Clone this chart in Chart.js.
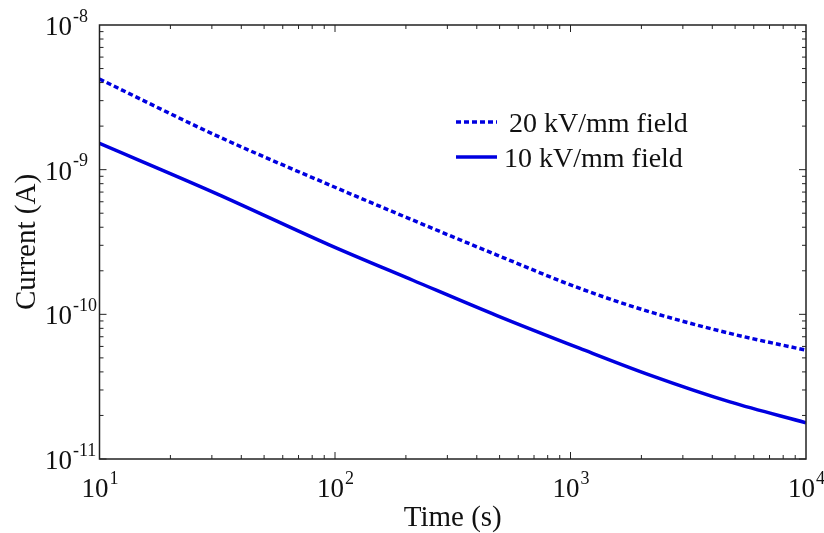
<!DOCTYPE html>
<html>
<head>
<meta charset="utf-8">
<script src="https://cdn.jsdelivr.net/npm/chart.js@4"></script>
<style>
  html, body { margin: 0; padding: 0; background: #fff; }
  #wrap { width: 824px; height: 533px; }
</style>
</head>
<body>
<div id="wrap"><canvas id="cv" width="824" height="533"></canvas></div>
<script>
'use strict';

// measured transient currents
const times = [10, 31, 95, 214, 487, 1097, 2175, 4753, 10000];
const field20 = [4.23e-9, 1.735e-9, 7.83e-10, 4.48e-10, 2.57e-10, 1.51e-10, 1.04e-10, 7.38e-11, 5.65e-11];
const field10 = [1.52e-9, 6.89e-10, 3.01e-10, 1.72e-10, 9.8e-11, 5.81e-11, 3.80e-11, 2.48e-11, 1.78e-11];
const seriesLabels = ['20 kV/mm field', '10 kV/mm field'];
const xDecades = [1, 2, 3, 4];
const yDecades = [-8, -9, -10, -11];

const blue = '#0000e0';
const serif = '"Liberation Serif", "Times New Roman", serif';

function pow10Label(ctx, exp, x, y, size, align) {
  // "10" with a superscript exponent
  ctx.font = size + 'px ' + serif;
  const base = '10';
  const bw = ctx.measureText(base).width;
  ctx.font = Math.round(size * 0.66) + 'px ' + serif;
  const ew = ctx.measureText(String(exp)).width;
  let x0;
  if (align === 'center') x0 = x - (bw + ew) / 2;
  else x0 = x - bw; // right edge of "10" at x
  ctx.textAlign = 'left';
  ctx.textBaseline = 'alphabetic';
  ctx.font = size + 'px ' + serif;
  ctx.fillText(base, x0, y);
  ctx.font = Math.round(size * 0.66) + 'px ' + serif;
  ctx.fillText(String(exp), x0 + bw + 1, y - size * 0.5);
}

const frame = {
  id: 'frame',
  afterDraw(chart) {
    const { ctx, chartArea: a, scales } = chart;
    const xs = scales.x, ys = scales.y;
    ctx.save();
    ctx.strokeStyle = '#222';
    ctx.lineWidth = 1.5;
    ctx.strokeRect(a.left, a.top, a.right - a.left, a.bottom - a.top);

    // inward log ticks on all four sides
    ctx.lineWidth = 1;
    ctx.beginPath();
    for (let d = 1; d < 4; d++) {
      for (let m = 1; m <= 9; m++) {
        const px = xs.getPixelForValue(m * Math.pow(10, d));
        const len = m === 1 ? 7 : 4;
        ctx.moveTo(px, a.bottom); ctx.lineTo(px, a.bottom - len);
        ctx.moveTo(px, a.top); ctx.lineTo(px, a.top + len);
      }
    }
    for (let d = -11; d < -8; d++) {
      for (let m = 1; m <= 9; m++) {
        const py = ys.getPixelForValue(m * Math.pow(10, d));
        const len = m === 1 ? 7 : 4;
        ctx.moveTo(a.left, py); ctx.lineTo(a.left + len, py);
        ctx.moveTo(a.right, py); ctx.lineTo(a.right - len, py);
      }
    }
    ctx.stroke();

    ctx.fillStyle = '#111';
    xDecades.forEach(d => {
      pow10Label(ctx, d, xs.getPixelForValue(Math.pow(10, d)), a.bottom + 38, 27, 'center');
    });
    yDecades.forEach(d => {
      pow10Label(ctx, d, 72, ys.getPixelForValue(Math.pow(10, d)) + 10, 27, 'right');
    });

    // axis titles
    ctx.font = '29px ' + serif;
    ctx.textAlign = 'center';
    ctx.textBaseline = 'alphabetic';
    ctx.fillText('Time (s)', (a.left + a.right) / 2, 526);
    ctx.save();
    ctx.translate(35, (a.top + a.bottom) / 2);
    ctx.rotate(-Math.PI / 2);
    ctx.fillText('Current (A)', 0, 0);
    ctx.restore();

    // legend
    const rows = [{ y: 122, tx: 509 }, { y: 157, tx: 504 }];
    chart.data.datasets.forEach((ds, i) => {
      const r = rows[i];
      ctx.strokeStyle = ds.borderColor;
      ctx.lineWidth = ds.borderWidth;
      ctx.setLineDash(ds.borderDash || []);
      ctx.beginPath();
      ctx.moveTo(456, r.y); ctx.lineTo(497, r.y);
      ctx.stroke();
      ctx.setLineDash([]);
      ctx.fillStyle = '#111';
      ctx.font = '28px ' + serif;
      ctx.textAlign = 'left';
      ctx.fillText(ds.label, r.tx, r.y + 10);
    });
    ctx.restore();
  }
};

new Chart(document.getElementById('cv'), {
  type: 'line',
  data: {
    labels: times,
    datasets: [
      {
        label: seriesLabels[0],
        data: times.map((t, i) => ({ x: t, y: field20[i] })),
        borderColor: blue,
        borderWidth: 3.5,
        borderDash: [5, 3],
        pointRadius: 0,
        cubicInterpolationMode: 'monotone',
        fill: false
      },
      {
        label: seriesLabels[1],
        data: times.map((t, i) => ({ x: t, y: field10[i] })),
        borderColor: blue,
        borderWidth: 3.5,
        pointRadius: 0,
        cubicInterpolationMode: 'monotone',
        fill: false
      }
    ]
  },
  options: {
    responsive: false,
    animation: false,
    layout: { padding: { left: 0, top: 25, right: 18, bottom: 0 } },
    plugins: { legend: { display: false }, tooltip: { enabled: false } },
    scales: {
      x: {
        type: 'logarithmic', min: 10, max: 10000,
        grid: { display: false }, border: { display: false },
        ticks: { display: false },
        afterFit(s) { s.height = 74; }
      },
      y: {
        type: 'logarithmic', min: 1e-11, max: 1e-8,
        grid: { display: false }, border: { display: false },
        ticks: { display: false },
        afterFit(s) { s.width = 99.5; }
      }
    }
  },
  plugins: [frame]
});
</script>
</body>
</html>
